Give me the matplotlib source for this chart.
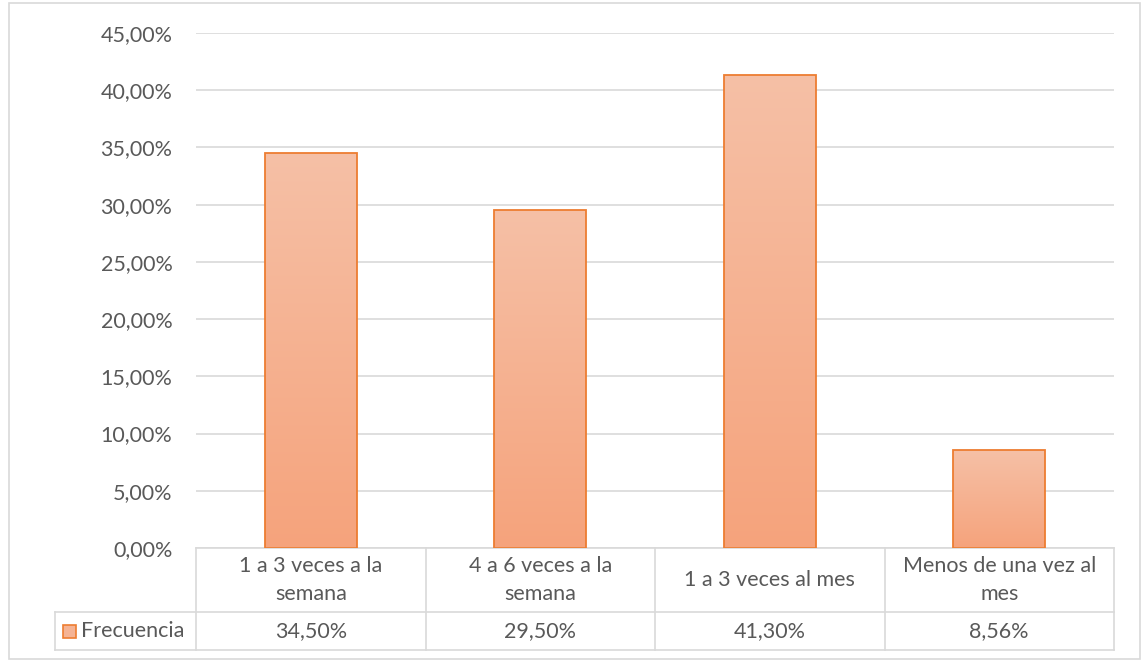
import numpy as np
import matplotlib
matplotlib.use("Agg")
import matplotlib.pyplot as plt
from matplotlib.colors import LinearSegmentedColormap
from matplotlib.patches import Rectangle
import matplotlib.transforms as mtransforms

categories = ["1 a 3 veces a la\nsemana", "4 a 6 veces a la\nsemana",
              "1 a 3 veces al mes", "Menos de una vez al\nmes"]
values = [34.50, 29.50, 41.30, 8.56]
value_labels = ["34,50%", "29,50%", "41,30%", "8,56%"]
series_name = "Frecuencia"
yticks = [0, 5, 10, 15, 20, 25, 30, 35, 40, 45]

plt.rcParams['font.family'] = ['Lato', 'DejaVu Sans']
TEXT = "#595959"
GRID = "#D9D9D9"
EDGE = "#ED7D31"
FS = 15.5

W, H = 1147, 662
fig = plt.figure(figsize=(W / 100, H / 100), dpi=100)

# outer chart frame
fig.add_artist(Rectangle((9 / W, 3 / H), (1140 - 9) / W, (659 - 3) / H,
                         transform=fig.transFigure, fill=False,
                         edgecolor=GRID, linewidth=1.2))

left, right, top, bottom = 196, 1114, 33, 548
ax = fig.add_axes([left / W, 1 - bottom / H, (right - left) / W, (bottom - top) / H])
ax.set_xlim(-0.5, len(categories) - 0.5)
ax.set_ylim(0, 45)
ax.set_yticks(yticks)
ax.set_yticklabels([f"{t:.2f}%".replace(".", ",") for t in yticks])
ax.tick_params(axis="y", length=0, labelsize=FS, labelcolor=TEXT, pad=17)
ax.set_xticks([])
for s in ax.spines.values():
    s.set_visible(False)
ax.grid(axis="y", color=GRID, linewidth=1.2)
ax.set_axisbelow(True)

cmap = LinearSegmentedColormap.from_list("bar", ["#F5A37C", "#F6C0A6"])
grad = np.linspace(0, 1, 256).reshape(-1, 1)
bw = 0.4
for i, v in enumerate(values):
    ax.imshow(grad, cmap=cmap, origin="lower", aspect="auto",
              extent=(i - bw / 2, i + bw / 2, 0, v), zorder=2)
    ax.add_patch(Rectangle((i - bw / 2, 0), bw, v, fill=False,
                           edgecolor=EDGE, linewidth=1.3, zorder=3))
ax.set_xlim(-0.5, len(categories) - 0.5)
ax.set_ylim(0, 45)

# data table below the plot
axh = bottom - top
y_head = -(612 - bottom) / axh
y_val = -(650 - bottom) / axh
tr = mtransforms.blended_transform_factory(ax.transData, ax.transAxes)
col_px = (right - left) / len(categories)
x_first = -0.5 - (left - 55) / col_px
n = len(categories)
kw = dict(color=GRID, linewidth=1.2, clip_on=False, transform=tr)
ax.plot([-0.5, n - 0.5], [0, 0], **kw)
ax.plot([x_first, n - 0.5], [y_head, y_head], **kw)
ax.plot([x_first, n - 0.5], [y_val, y_val], **kw)
for xb in np.arange(-0.5, n, 1.0):
    ax.plot([xb, xb], [0, y_val], **kw)
ax.plot([x_first, x_first], [y_head, y_val], **kw)

for i, (c, lab) in enumerate(zip(categories, value_labels)):
    ax.text(i, y_head / 2, c, ha="center", va="center", fontsize=FS,
            color=TEXT, transform=tr, linespacing=1.45)
    ax.text(i, (y_head + y_val) / 2, lab, ha="center", va="center",
            fontsize=FS, color=TEXT, transform=tr)

# legend key inside the table
ymid = (y_head + y_val) / 2
key_h = 13 / axh
key_w = 13 / col_px
kx = x_first + (63 - 55) / col_px
ax.add_patch(Rectangle((kx, ymid - key_h / 2), key_w, key_h, transform=tr,
                       facecolor="#F5B394", edgecolor=EDGE, linewidth=1.2,
                       clip_on=False))
ax.text(kx + key_w + 5 / col_px, ymid, series_name, ha="left",
        va="center", fontsize=FS, color=TEXT, transform=tr)

fig.savefig("out.png", dpi=100, facecolor="white")
